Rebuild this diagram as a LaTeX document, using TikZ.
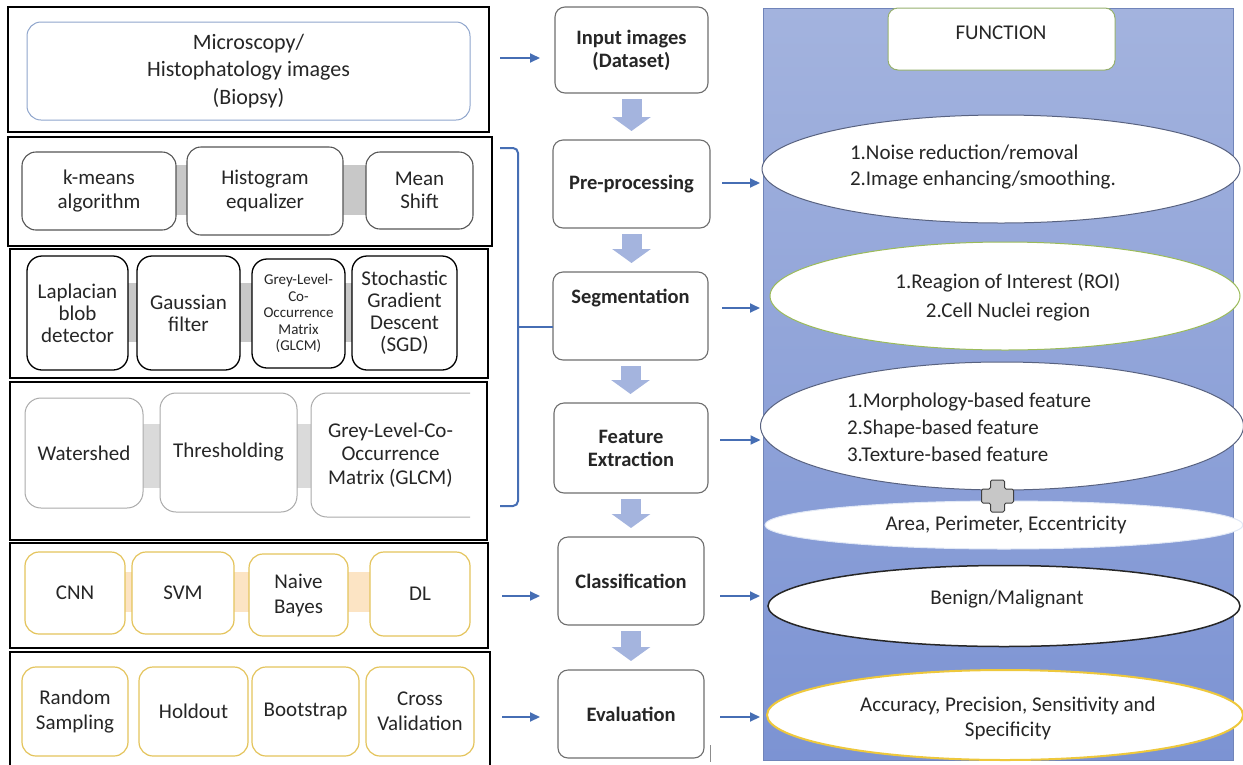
\documentclass[tikz,border=0pt]{standalone}
\usepackage{fontspec}
\setmainfont{Carlito}
\usetikzlibrary{shapes.geometric,arrows.meta,calc,backgrounds}
\definecolor{txt}{RGB}{38,38,38}
\definecolor{arrblue}{RGB}{70,110,180}
\definecolor{blkblue}{RGB}{164,180,222}
\definecolor{panelTop}{RGB}{163,179,222}
\definecolor{panelBot}{RGB}{124,147,211}
\definecolor{panelEdge}{RGB}{112,132,185}
\definecolor{gold}{RGB}{228,196,92}
\definecolor{accgold}{RGB}{238,200,60}
\definecolor{roigreen}{RGB}{155,187,89}
\definecolor{funcgreen}{RGB}{150,176,110}
\definecolor{slate}{RGB}{88,98,128}
\definecolor{midgray}{RGB}{110,110,110}
\definecolor{bandgray}{RGB}{200,200,200}
\definecolor{bandlight}{RGB}{218,218,218}
\definecolor{bandpeach}{RGB}{252,228,196}
\definecolor{topedge}{RGB}{143,165,204}
\definecolor{rowtwo}{RGB}{85,85,85}
\definecolor{rowfour}{RGB}{170,170,170}
\definecolor{areaedge}{RGB}{225,232,245}

\newcommand\mkbox[7]{\node[#2, minimum width={(#5-#3)*1pt}, minimum height={(#6-#4)*1pt}] (#1) at ({(#3+#5)/2},{(#4+#6)/2}) {#7};}

\begin{document}
\begin{tikzpicture}[x=1pt,y=-1pt,
  base/.style={inner sep=0pt, outer sep=0pt, align=center, text=txt, font=\fontsize{21}{23.5}\selectfont},
  outerbox/.style={base, draw=black, line width=1.4pt},
  topbox/.style={base, draw=topedge, line width=1pt, rounded corners=14pt, fill=white, font=\fontsize{22}{27.5}\selectfont},
  rtwo/.style={base, draw=rowtwo, line width=1.1pt, rounded corners=14pt, fill=white},
  rthree/.style={base, draw=black, line width=1.3pt, rounded corners=15pt, fill=white, font=\fontsize{21}{22}\selectfont},
  rthreesmall/.style={rthree, font=\fontsize{15}{16.5}\selectfont},
  rfour/.style={base, draw=rowfour, line width=1pt, rounded corners=16pt, fill=white},
  rfouropen/.style={base, fill=white, rounded corners=16pt},
  rfourline/.style={draw=rowfour, line width=1pt, rounded corners=16pt},
  rgold/.style={base, draw=gold, line width=1.2pt, rounded corners=14pt, fill=white, font=\fontsize{21}{25}\selectfont},
  midbox/.style={base, draw=midgray, line width=1.1pt, rounded corners=10pt, fill=white, font=\fontsize{20.5}{23}\selectfont\bfseries},
  midtext/.style={base, font=\fontsize{20.5}{23}\selectfont\bfseries},
  panelbox/.style={inner sep=0pt, draw=panelEdge, line width=0.8pt, top color=panelTop, bottom color=panelBot},
  funcbox/.style={base, draw=funcgreen, line width=1pt, rounded corners=10pt, fill=white},
  ell/.style={ellipse, inner sep=0pt, outer sep=0pt, fill=white, line width=1pt},
  etext/.style={base, font=\fontsize{21}{26}\selectfont},
  arr/.style={draw=arrblue, line width=2pt, -{Triangle[length=10pt,width=9pt]}},
  blockarrow/.style={draw=blkblue, line width=20pt, -{Triangle[length=14pt,width=38pt]}, shorten <=6pt, shorten >=9pt},
  bracketline/.style={draw=arrblue, line width=2pt},
  plusshape/.style={fill=black!22, draw=black!75, line width=1pt, rounded corners=1.5pt}
]
\useasboundingbox (0,0) rectangle (1243,764);
\clip (0,0) rectangle (1243,764);

% right panel
\node[panelbox, minimum width=470pt, minimum height=752pt] (panel) at (998,384) {};
\mkbox{func}{funcbox}{888}{8}{1115}{70}{}
\node[etext] (funcT) at (1001,33) {FUNCTION};

\node[ell, draw=slate, minimum width=478pt, minimum height=108pt] (e1) at (1001,169) {};
\node[etext, anchor=west, align=left] (e1t) at (850,167) {1.Noise reduction/removal\\2.Image enhancing/smoothing.};
\node[ell, draw=roigreen, minimum width=470pt, minimum height=108pt] (e2) at (1005,296) {};
\node[etext, font=\fontsize{21}{29}\selectfont] (e2t) at (1008,297.5) {1.Reagion of Interest (ROI)\\2.Cell Nuclei region};
\node[ell, draw=slate, minimum width=483pt, minimum height=128pt] (e3) at (1002,426) {};
\node[etext, anchor=west, align=left, font=\fontsize{21}{27}\selectfont] (e3t) at (847,427) {1.Morphology-based feature\\2.Shape-based feature\\3.Texture-based feature};
\node[ell, draw=areaedge, minimum width=478pt, minimum height=48pt] (e4) at (1004,525) {};
\node[etext] (e4t) at (1006,525) {Area, Perimeter, Eccentricity};
\coordinate (plus) at (997.5,496);
\draw[plusshape] ($(plus)+(-7,-16)$) -- ($(plus)+(7,-16)$) -- ($(plus)+(7,-7)$) -- ($(plus)+(16,-7)$) -- ($(plus)+(16,7)$) -- ($(plus)+(7,7)$) -- ($(plus)+(7,16)$) -- ($(plus)+(-7,16)$) -- ($(plus)+(-7,7)$) -- ($(plus)+(-16,7)$) -- ($(plus)+(-16,-7)$) -- ($(plus)+(-7,-7)$) -- cycle;
\node[ell, draw=black!85, line width=1.5pt, minimum width=472pt, minimum height=81pt] (e5) at (1004,606) {};
\node[etext] (e5t) at (1007,599) {Benign/Malignant};
\node[ell, draw=accgold, line width=2pt, minimum width=476pt, minimum height=90pt] (e6) at (1005,715) {};
\node[etext, font=\fontsize{21}{25}\selectfont] (e6t) at (1008,718.5) {Accuracy, Precision, Sensitivity and\\Specificity};

% middle column
\mkbox{inp}{midbox}{555}{7}{708}{93}{Input images\\(Dataset)}
\mkbox{pre}{midbox}{553}{140}{710}{228}{Pre-processing}
\mkbox{seg}{midbox}{553}{272}{708}{360}{}
\node[midtext] (segT) at (630.5,298) {Segmentation};
\mkbox{fe}{midbox}{554}{403}{708}{493}{Feature\\Extraction}
\mkbox{cls}{midbox}{558}{537}{704}{625}{Classification}
\mkbox{ev}{midbox}{558}{670}{704}{758}{Evaluation}
\foreach \a/\b in {inp/pre,pre/seg,seg/fe,fe/cls,cls/ev}
  \draw[blockarrow] (\a.south) -- (\a.south |- \b.north);
\coordinate (stray) at (710,745);
\draw[black!45, line width=0.8pt] (stray) -- ++(0,17);

% left column
\mkbox{o1}{outerbox}{8}{7}{489}{132}{}
\mkbox{tin}{topbox}{27}{22}{470}{120}{Microscopy/\\Histophatology images\\(Biopsy)}
\mkbox{o2}{outerbox}{8}{137}{492}{246}{}
\mkbox{km}{rtwo}{22}{152}{176}{230}{k-means\\algorithm}
\mkbox{hist}{rtwo}{187}{147}{343}{235}{Histogram\\equalizer}
\mkbox{ms}{rtwo}{366}{152}{473}{229}{Mean\\Shift}
\mkbox{o3}{outerbox}{10}{249}{488}{378}{}
\mkbox{lap}{rthree}{27}{256}{128}{370}{Laplacian\\blob\\detector}
\mkbox{gau}{rthree}{137}{256}{240}{370}{Gaussian\\filter}
\mkbox{gla}{rthreesmall}{252}{259}{345}{368}{Grey-Level-\\Co-\\Occurrence\\Matrix\\(GLCM)}
\mkbox{sgd}{rthree}{352}{256}{457}{370}{Stochastic\\Gradient\\Descent\\(SGD)}
\mkbox{o4}{outerbox}{10}{382}{487}{540}{}
\mkbox{ws}{rfour}{25}{398}{143}{508}{Watershed}
\mkbox{thr}{rfour}{160}{393}{297}{512}{Thresholding}
\mkbox{glb}{rfouropen}{311}{393}{470}{517}{Grey-Level-Co-\\Occurrence\\Matrix (GLCM)}
\draw[rfourline] (glb.north east) -- (glb.north west) -- (glb.south west) -- (glb.south east);
\mkbox{o5}{outerbox}{10}{543}{488}{648}{}
\mkbox{cnn}{rgold}{25}{552}{125}{634}{CNN}
\mkbox{svm}{rgold}{132}{552}{234}{634}{SVM}
\mkbox{nb}{rgold}{249}{554}{348}{636}{Naive\\Bayes}
\mkbox{dl}{rgold}{370}{552}{470}{636}{DL}
\mkbox{o6}{outerbox}{10}{652}{490}{790}{}
\mkbox{rs}{rgold}{22}{667}{128}{756}{Random\\Sampling}
\mkbox{ho}{rgold}{139}{667}{248}{756}{Holdout}
\mkbox{bs}{rgold}{252}{667}{359}{756}{Bootstrap}
\mkbox{cv}{rgold}{366}{667}{474}{756}{Cross\\Validation}

\begin{pgfonlayer}{background}
  \fill[bandgray] (km.center |- 0,165) rectangle (ms.center |- 0,215);
  \fill[bandgray] (lap.center |- 0,283) rectangle (sgd.center |- 0,342);
  \fill[bandlight] (ws.center |- 0,424) rectangle (glb.center |- 0,488);
  \fill[bandpeach] (cnn.center |- 0,572) rectangle (dl.center |- 0,612);
\end{pgfonlayer}

% bracket
\coordinate (bA) at (500,148);
\coordinate (bB) at (518,148);
\coordinate (bC) at (518,506);
\coordinate (bD) at (500,506);
\coordinate (bM) at (518,327);
\draw[bracketline, rounded corners=5pt] (bA) -- (bB) -- (bC) -- (bD);
\draw[bracketline] (bM) -- (seg.west |- bM);

% arrows
\draw[arr, shorten <=11pt, shorten >=15pt] (o1.east |- 0,58) -- (inp.west |- 0,58);
\draw[arr, shorten <=14pt, shorten >=18pt] (o5.east |- 0,596) -- (cls.west |- 0,596);
\draw[arr, shorten <=12pt, shorten >=18pt] (o6.east |- 0,717) -- (ev.west |- 0,717);
\draw[arr, shorten <=12pt, shorten >=2pt] (pre.east |- 0,183) -- (e1.west |- 0,183);
\draw[arr, shorten <=14pt, shorten >=10pt] (seg.east |- 0,308) -- (e2.west |- 0,308);
\draw[arr, shorten <=12pt, shorten >=0pt] (fe.east |- 0,440) -- (e3.west |- 0,440);
\draw[arr, shorten <=16pt, shorten >=8pt] (cls.east |- 0,596) -- (e5.west |- 0,596);
\draw[arr, shorten <=16pt, shorten >=7pt] (ev.east |- 0,717) -- (e6.west |- 0,717);
\end{tikzpicture}
\end{document}
